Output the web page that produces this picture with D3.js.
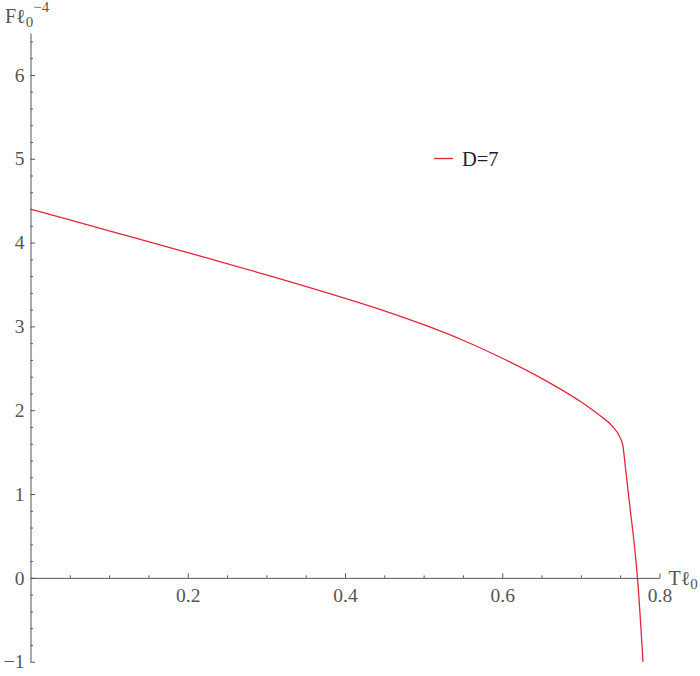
<!DOCTYPE html>
<html>
<head>
<meta charset="utf-8">
<script src="https://cdn.jsdelivr.net/npm/d3@7"></script>
<style>
  html, body { margin: 0; padding: 0; background: #fff; }
  svg { display: block; }
  text { font-family: "Liberation Serif", "DejaVu Serif", serif; }
</style>
</head>
<body>
<svg id="chart" width="700" height="676"></svg>
<script>
// ---- data ----
const seriesName = "D=7";
const tValues = [0, 0.1, 0.2, 0.3, 0.4, 0.45, 0.5, 0.55, 0.6, 0.65, 0.7, 0.725, 0.74, 0.75, 0.7535, 0.7565, 0.7627, 0.7678, 0.772, 0.779];
const fValues = [4.40, 4.14, 3.88, 3.615, 3.335, 3.185, 3.02, 2.835, 2.62, 2.38, 2.10, 1.93, 1.81, 1.67, 1.575, 1.33, 0.82, 0.41, 0.0, -1.0];
const xMajorTicks = [0.2, 0.4, 0.6, 0.8];
const xMinorTicks = [0.05, 0.1, 0.15, 0.25, 0.3, 0.35, 0.45, 0.5, 0.55, 0.65, 0.7, 0.75];
const yMajorTicks = [-1, 0, 1, 2, 3, 4, 5, 6];
const yMinorTicks = [-0.8, -0.6, -0.4, -0.2, 0.2, 0.4, 0.6, 0.8, 1.2, 1.4, 1.6, 1.8, 2.2, 2.4, 2.6, 2.8,
                     3.2, 3.4, 3.6, 3.8, 4.2, 4.4, 4.6, 4.8, 5.2, 5.4, 5.6, 5.8, 6.2, 6.4];

const svg = d3.select("#chart");
const axisColor = "#555555";
const curveColor = "#e3263d";

const x = d3.scaleLinear().domain([0, 0.8]).range([30.5, 659.5]);
const y = d3.scaleLinear().domain([-1, 6.5]).range([661.7, 33]);

// ---- x axis (at y = 0) ----
const gx = svg.append("g").attr("transform", `translate(0,${y(0)})`);
gx.call(d3.axisBottom(x).tickValues(xMajorTicks).tickSize(-4.5).tickSizeOuter(0)
  .tickPadding(10).tickFormat(d3.format(".1f")));
const gxm = svg.append("g").attr("transform", `translate(0,${y(0)})`);
gxm.call(d3.axisBottom(x).tickValues(xMinorTicks).tickSize(-2.5).tickSizeOuter(0).tickFormat(""));
gxm.select(".domain").remove();

// ---- y axis (at x = 0) ----
const gy = svg.append("g").attr("transform", `translate(${x(0)},0)`);
gy.call(d3.axisLeft(y).tickValues(yMajorTicks).tickSize(-4.5).tickSizeOuter(0)
  .tickPadding(6).tickFormat(d => d < 0 ? "\u2212" + Math.abs(d) : String(d)));
const gym = svg.append("g").attr("transform", `translate(${x(0)},0)`);
gym.call(d3.axisLeft(y).tickValues(yMinorTicks).tickSize(-2.5).tickSizeOuter(0).tickFormat(""));
gym.select(".domain").remove();

[gx, gxm, gy, gym].forEach(g => {
  g.selectAll("path, line").attr("stroke", axisColor).attr("stroke-width", 1);
  g.selectAll("text").attr("fill", axisColor).attr("font-size", 19.5)
    .attr("font-family", "Liberation Serif, DejaVu Serif, serif");
});

// ---- axis labels ----
const xl = svg.append("text").attr("x", x(0.8) + 9).attr("y", y(0) + 7)
  .attr("fill", axisColor).attr("font-size", 20);
xl.append("tspan").text("T\u2113");
xl.append("tspan").attr("font-size", 15).attr("dy", 4).text("0");

const yl = svg.append("text").attr("x", 5).attr("y", 23)
  .attr("fill", axisColor).attr("font-size", 20);
yl.append("tspan").text("F\u2113");
yl.append("tspan").attr("font-size", 15).attr("dy", 4).text("0");
yl.append("tspan").attr("font-size", 15).attr("dy", -15).text("\u22124");

// ---- curve ----
const pts = tValues.map((t, i) => [t, fValues[i]]);
const line = d3.line().x(d => x(d[0])).y(d => y(d[1])).curve(d3.curveMonotoneX);
svg.append("path").datum(pts).attr("d", line)
  .attr("fill", "none").attr("stroke", curveColor).attr("stroke-width", 1.3);

// ---- legend ----
const lg = svg.append("g");
lg.append("line").attr("x1", 434).attr("x2", 453).attr("y1", 158.5).attr("y2", 158.5)
  .attr("stroke", curveColor).attr("stroke-width", 1.3);
lg.append("text").attr("x", 462).attr("y", 165.5).attr("font-size", 20.5)
  .attr("fill", "#222").text(seriesName);
</script>
</body>
</html>
